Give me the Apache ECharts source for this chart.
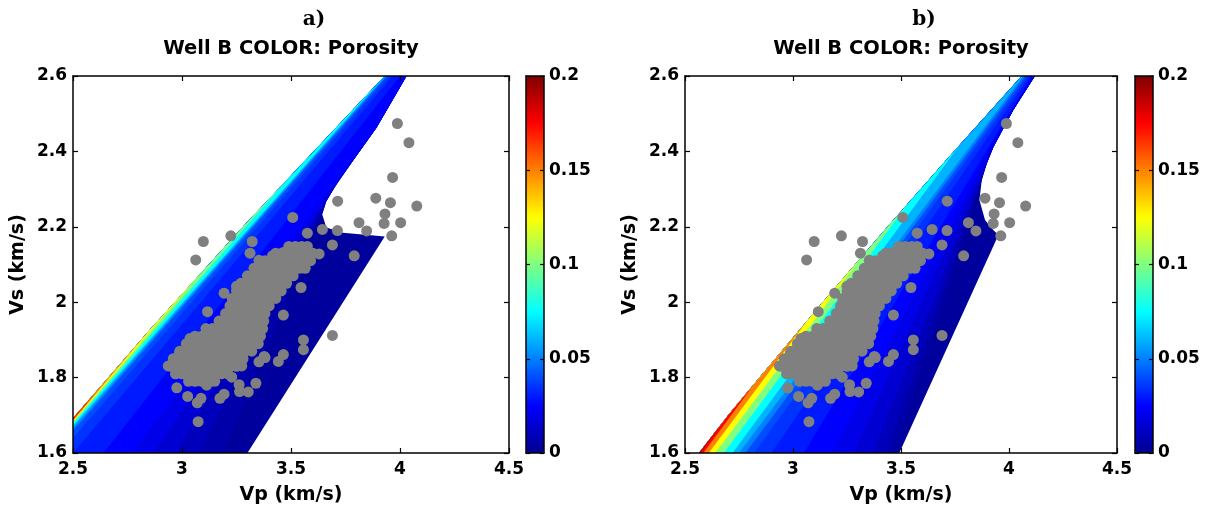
<!DOCTYPE html>
<html>
<head>
<meta charset="utf-8">
<script src="https://cdn.jsdelivr.net/npm/echarts@6.0.0/dist/echarts.min.js"></script>
<style>
html,body{margin:0;padding:0;background:#fff}
#chart{width:1218px;height:514px}
</style>
</head>
<body>
<div id="chart"></div>
<script>
// axis ranges (Vp along x, Vs along y, porosity on the colorbar)
var vpRange = [2.5, 4.5], vpStep = 0.5;
var vsRange = [1.6, 2.6], vsStep = 0.2;
var phiRange = [0, 0.2], phiStep = 0.05;
var jet = ['#00008f','#0000ff','#0080ff','#00ffff','#80ff80','#ffff00','#ff8000','#ff0000','#800000'];

// panel a) template: upper-left edge, right/lower boundary, porosity bands
var edgeA = [[2.362,1.6],[2.5,1.692],[2.85,1.925],[3.28,2.2],[3.93,2.6]];
var curveA = [[4.03,2.6],[3.892,2.463],[3.784,2.375],[3.708,2.313],[3.662,2.268],[3.643,2.233],[3.662,2.198],[3.738,2.184],[3.93,2.174],[3.30,1.6]];
var phiA = [0.003,0.006,0.01,0.015,0.02,0.025,0.03,0.035,0.04,0.05,0.06,0.075,0.1,0.125,0.15,0.175];
var cutA = [10,6,5,4,3,2,0,0,0,0,0,0,0,0,0,0];
var tailA = [
  [],
  [[3.19,1.6]],
  [[3.08,1.6]],
  [[2.97,1.6]],
  [[2.87,1.6]],
  [[2.77,1.6]],
  [[4.0,2.6],[2.64,1.6]],
  [[3.965,2.6],[2.5,1.6]],
  [[3.95,2.6],[2.44,1.6]],
  [[3.94,2.6],[2.41,1.6]],
  [[3.935,2.6],[2.398,1.6]],
  [[3.93,2.6],[2.389,1.6]],
  [[3.49,2.33],[2.381,1.6]],
  [[3.12,2.1],[2.378,1.6]],
  [[2.85,1.925],[2.376,1.6]],
  [[2.62,1.772],[2.374,1.6]]
];

// panel b) template
var edgeB = [[2.565,1.6],[2.70,1.7],[2.845,1.8],[3.138,2.0],[3.438,2.2],[3.745,2.4],[4.059,2.6]];
var curveB = [[4.12,2.6],[4.02,2.51],[3.928,2.412],[3.898,2.37],[3.874,2.324],[3.863,2.271],[3.889,2.218],[3.928,2.191],[3.951,2.178],[3.492,1.6]];
var phiB = [0.003,0.006,0.01,0.015,0.02,0.025,0.03,0.035,0.04,0.05,0.06,0.075,0.1,0.125,0.15,0.175,0.19];
var cutB = [10,5,4,3,2,0,0,0,0,0,0,0,0,0,0,0,0];
var tailB = [
  [],
  [[3.47,1.6]],
  [[3.43,1.6]],
  [[3.37,1.6]],
  [[3.915,2.40],[3.28,1.6]],
  [[4.115,2.6],[3.98,2.48],[3.18,1.6]],
  [[4.105,2.6],[3.05,1.6]],
  [[4.095,2.6],[2.9,1.6]],
  [[4.085,2.6],[2.82,1.6]],
  [[4.075,2.6],[2.78,1.6]],
  [[4.066,2.6],[2.75,1.6]],
  [[3.776,2.42],[2.72,1.6]],
  [[3.53,2.26],[2.68,1.6]],
  [[3.318,2.12],[2.64,1.6]],
  [[3.065,1.95],[2.61,1.6]],
  [[2.816,1.78],[2.585,1.6]],
  [[2.673,1.68],[2.572,1.6]]
];

// well B log samples [Vp, Vs] (same in both panels)
var outliers = [
  [3.988,2.474],[4.041,2.423],[3.966,2.331],[3.889,2.276],[3.956,2.264],[4.077,2.255],
  [3.714,2.268],[3.931,2.234],[3.812,2.211],[3.927,2.209],[4.003,2.211],[3.847,2.189],
  [3.962,2.176],[3.713,2.190],[3.644,2.193],[3.575,2.183],[3.508,2.225],[3.690,2.152],
  [3.629,2.128],[3.790,2.123],[3.224,2.176],[3.098,2.161],[3.063,2.112],[3.322,2.161],
  [3.312,2.130],[3.353,2.111],[3.415,2.123],[3.465,2.132],[3.546,2.039],[3.465,1.966],
  [3.690,1.912],[3.557,1.900],[3.557,1.874],[3.465,1.861],[3.442,1.843],[3.381,1.853],
  [3.353,1.842],[3.377,1.856],[3.274,1.831],[3.339,1.785],[3.304,1.762],[3.264,1.763],
  [3.262,1.781],[3.228,1.801],[3.193,1.756],[3.174,1.745],[3.113,1.780],[3.087,1.745],
  [3.070,1.733],[3.026,1.750],[2.976,1.773],[3.074,1.683],[2.937,1.831],[2.972,1.822],
  [2.988,1.864],[3.037,1.904],[3.117,1.975],[3.193,2.024],[3.250,2.042]
];
// dense core of the cloud, one row per Vs value
var coreVs = [2.148,2.13,2.11,2.09,2.07,2.05,2.03,2.01,1.99,1.97,1.95,1.93,1.91,1.89,1.87,1.85,1.83,1.81,1.79];
var coreVp = [
  [3.49,3.52,3.55,3.575],
  [3.43,3.46,3.49,3.52,3.55,3.58,3.60],
  [3.38,3.41,3.44,3.47,3.50,3.53,3.56,3.59],
  [3.33,3.36,3.39,3.42,3.45,3.48,3.51,3.54,3.565],
  [3.30,3.33,3.36,3.39,3.42,3.45,3.48,3.51],
  [3.27,3.30,3.33,3.36,3.39,3.42,3.45,3.48],
  [3.25,3.28,3.31,3.34,3.37,3.40,3.43,3.455],
  [3.23,3.26,3.29,3.32,3.35,3.38,3.41,3.43],
  [3.22,3.25,3.28,3.31,3.34,3.37,3.40],
  [3.20,3.23,3.26,3.29,3.32,3.35,3.38],
  [3.17,3.20,3.23,3.26,3.29,3.32,3.35,3.375],
  [3.11,3.14,3.17,3.20,3.23,3.26,3.29,3.32,3.35,3.37],
  [3.06,3.09,3.12,3.15,3.18,3.21,3.24,3.27,3.30,3.33,3.36],
  [3.02,3.05,3.08,3.11,3.14,3.17,3.20,3.23,3.26,3.29,3.32,3.35],
  [2.99,3.02,3.05,3.08,3.11,3.14,3.17,3.20,3.23,3.26,3.29,3.32],
  [2.96,2.99,3.02,3.05,3.08,3.11,3.14,3.17,3.20,3.23,3.26,3.28],
  [2.95,2.98,3.01,3.04,3.07,3.10,3.13,3.16,3.19,3.22,3.25],
  [2.97,3.00,3.03,3.06,3.09,3.12,3.15,3.18,3.21],
  [3.03,3.06,3.09,3.12,3.15]
];

var samples = outliers.slice();
coreVs.forEach(function (vs, i) {
  coreVp[i].forEach(function (vp) { samples.push([vp, vs]); });
});

// each band = its lower-right border + the upper-left edge, stacked low to high porosity
function bands(edge, curve, cut, tail) {
  return cut.map(function (c, i) {
    var line = curve.slice(0, c).concat(tail[i]);
    var top = line[0][1];
    return line.concat(edge.filter(function (p) { return p[1] <= top; }));
  });
}
var polysA = bands(edgeA, curveA, cutA, tailA);
var polysB = bands(edgeB, curveB, cutB, tailB);

var font = 'DejaVu Sans';
var tickFont = {fontFamily: font, fontWeight: 'bold', fontSize: 17, color: '#000'};
var frame = {show: true, onZero: false, lineStyle: {color: '#000', width: 1.5}};

function vpAxis(grid, pos) {
  var main = pos === 'bottom';
  return {
    gridIndex: grid, type: 'value', position: pos, z: 5,
    min: vpRange[0], max: vpRange[1], interval: vpStep,
    axisLine: frame,
    axisTick: {show: true, inside: true, length: 5, lineStyle: {color: '#000', width: 1.2}},
    axisLabel: main ? Object.assign({margin: 8}, tickFont) : {show: false},
    splitLine: {show: false},
    name: main ? 'Vp (km/s)' : '', nameLocation: 'middle', nameGap: 33,
    nameTextStyle: {fontFamily: font, fontWeight: 'bold', fontSize: 19, color: '#000'}
  };
}
function vsAxis(grid, pos) {
  var main = pos === 'left';
  return {
    gridIndex: grid, type: 'value', position: pos, z: 5,
    min: vsRange[0], max: vsRange[1], interval: vsStep,
    axisLine: frame,
    axisTick: {show: true, inside: true, length: 5, lineStyle: {color: '#000', width: 1.2}},
    axisLabel: main ? Object.assign({margin: 6}, tickFont) : {show: false},
    splitLine: {show: false},
    name: main ? 'Vs (km/s)' : '', nameLocation: 'middle', nameGap: 45,
    nameTextStyle: {fontFamily: font, fontWeight: 'bold', fontSize: 19, color: '#000'}
  };
}
function cbX(grid, pos) {
  return {gridIndex: grid, type: 'value', position: pos, min: 0, max: 1, z: 5,
    axisLine: frame, axisTick: {show: false}, axisLabel: {show: false}, splitLine: {show: false}};
}
function cbY(grid, pos) {
  var main = pos === 'right';
  return {gridIndex: grid, type: 'value', position: pos, z: 5,
    min: phiRange[0], max: phiRange[1], interval: phiStep,
    axisLine: frame,
    axisTick: {show: true, inside: true, length: 4, lineStyle: {color: '#000', width: 1.2}},
    axisLabel: main ? Object.assign({margin: 5}, tickFont) : {show: false},
    splitLine: {show: false}};
}
function template(polys, phi, axis) {
  return {
    type: 'custom', xAxisIndex: axis, yAxisIndex: axis, clip: true, z: 1,
    data: phi.map(function (v) { return [v]; }),
    renderItem: function (params, api) {
      var pts = polys[params.dataIndex].map(function (p) { return api.coord(p); });
      return {type: 'polygon', shape: {points: pts}, style: {fill: api.visual('color')}};
    }
  };
}
function dots(axis) {
  return {type: 'scatter', xAxisIndex: axis, yAxisIndex: axis, z: 3,
    symbolSize: 11, itemStyle: {color: '#808080', opacity: 1}, data: samples};
}
function colorbar(series, left) {
  return {type: 'continuous', seriesIndex: series, dimension: 0,
    min: phiRange[0], max: phiRange[1], calculable: false, showLabel: false,
    left: left, top: 76, itemWidth: 18, itemHeight: 377, padding: 0,
    inRange: {color: jet}};
}
function heading(cx, label) {
  return [
    {type: 'text', x: cx + 23, y: 20, style: {text: label, align: 'center', verticalAlign: 'middle',
      font: 'bold 20px "DejaVu Serif"', fill: '#000'}},
    {type: 'text', x: cx, y: 49, style: {text: 'Well B COLOR: Porosity', align: 'center', verticalAlign: 'middle',
      font: 'bold 19.5px "DejaVu Sans"', fill: '#000'}}
  ];
}

var chart = echarts.init(document.getElementById('chart'), null, {renderer: 'canvas'});
chart.setOption({
  animation: false,
  backgroundColor: '#fff',
  grid: [
    {left: 73, top: 76, width: 436, height: 377},
    {left: 685, top: 76, width: 432, height: 377},
    {left: 526, top: 76, width: 18, height: 377},
    {left: 1135, top: 76, width: 18, height: 377}
  ],
  xAxis: [vpAxis(0, 'bottom'), vpAxis(1, 'bottom'), cbX(2, 'bottom'), cbX(3, 'bottom'),
          vpAxis(0, 'top'), vpAxis(1, 'top'), cbX(2, 'top'), cbX(3, 'top')],
  yAxis: [vsAxis(0, 'left'), vsAxis(1, 'left'), cbY(2, 'right'), cbY(3, 'right'),
          vsAxis(0, 'right'), vsAxis(1, 'right'), cbY(2, 'left'), cbY(3, 'left')],
  visualMap: [colorbar(0, 526), colorbar(2, 1135)],
  series: [template(polysA, phiA, 0), dots(0), template(polysB, phiB, 1), dots(1)],
  graphic: heading(291, 'a)').concat(heading(901, 'b)'))
});
</script>
</body>
</html>
